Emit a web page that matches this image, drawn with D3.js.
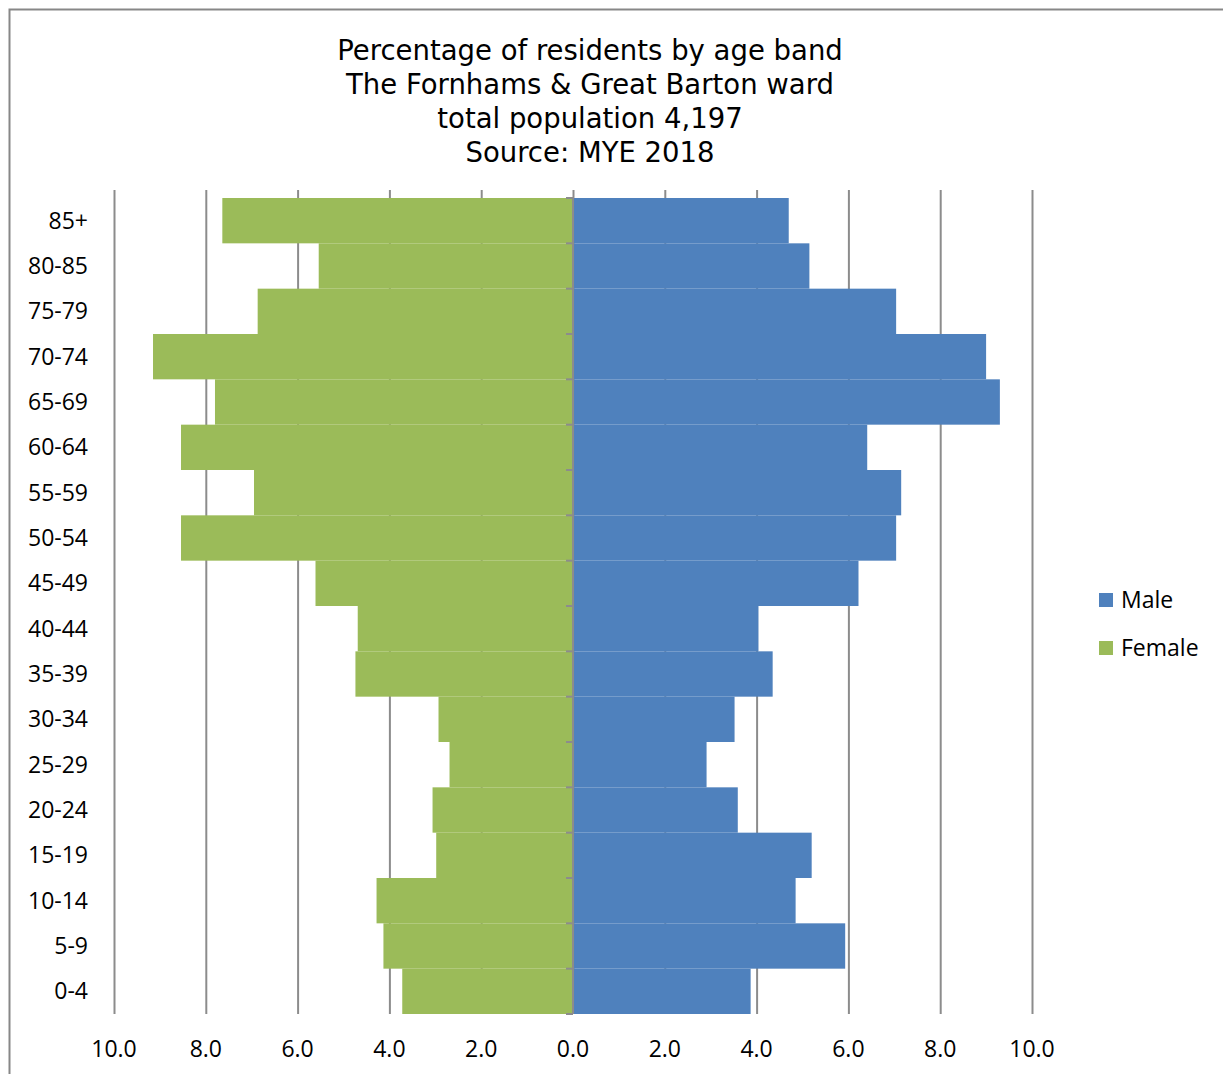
<!DOCTYPE html>
<meta charset="utf-8">
<style>
body { margin: 0; background: #fff; }
.title { font-family: "DejaVu Sans", Verdana, sans-serif; font-size: 27.5px; fill: #000; }
.lbl { font-family: "Open Sans", "Liberation Sans", sans-serif; font-size: 23px; fill: #000; }
.grid line { stroke: #8c8c8c; stroke-width: 2; }
.grid .domain { display: none; }
</style>
<svg width="1223" height="1074"></svg>
<script src="https://d3js.org/d3.v7.min.js"></script>
<script>

var ageBands = ["85+", "80-85", "75-79", "70-74", "65-69", "60-64", "55-59", "50-54", "45-49",
                "40-44", "35-39", "30-34", "25-29", "20-24", "15-19", "10-14", "5-9", "0-4"];
var male   = [4.70, 5.15, 7.04, 9.00, 9.30, 6.41, 7.15, 7.04, 6.22, 4.04, 4.35, 3.52, 2.91, 3.59, 5.20, 4.85, 5.93, 3.87];
var female = [7.64, 5.54, 6.87, 9.15, 7.80, 8.54, 6.95, 8.54, 5.61, 4.69, 4.74, 2.93, 2.69, 3.06, 2.98, 4.28, 4.13, 3.72];
var xTicks = [-10, -8, -6, -4, -2, 0, 2, 4, 6, 8, 10];
var titleLines = ["Percentage of residents by age band", "The Fornhams & Great Barton ward",
                  "total population 4,197", "Source: MYE 2018"];
var seriesNames = ["Male", "Female"];
var seriesColors = ["#4f81bd", "#9bbb59"];

var svg = d3.select("svg");

// outer chart frame (runs off the right and bottom of the picture)
svg.append("rect")
    .attr("x", 9.5).attr("y", 9.5)
    .attr("width", 1240).attr("height", 1100)
    .attr("fill", "none")
    .attr("stroke", "#878787")
    .attr("stroke-width", 2);

var plotTop = 198, plotBottom = 1014;

var x = d3.scaleLinear()
    .domain([-10, 10])
    .range([114, 1032]);

var y = d3.scaleBand()
    .domain(ageBands)
    .range([plotTop, plotBottom])
    .padding(0);

// title
svg.append("g").selectAll("text")
  .data(titleLines)
  .enter().append("text")
    .attr("class", "title")
    .attr("x", 590)
    .attr("y", function(d, i) { return 60 + i * 34; })
    .attr("text-anchor", "middle")
    .text(function(d) { return d; });

// vertical gridlines
svg.append("g")
    .attr("class", "grid")
    .attr("transform", "translate(0," + plotBottom + ")")
    .call(d3.axisBottom(x).tickValues(xTicks).tickSize(-(plotBottom - plotTop)).tickFormat(""));

// bars
var rows = ageBands.map(function(a, i) { return { band: a, male: male[i], female: female[i] }; });

svg.append("g").selectAll("rect")
  .data(rows)
  .enter().append("rect")
    .attr("x", function(d) { return x(-d.female); })
    .attr("y", function(d) { return y(d.band); })
    .attr("width", function(d) { return x(0) - x(-d.female); })
    .attr("height", y.bandwidth())
    .attr("fill", seriesColors[1]);

svg.append("g").selectAll("rect")
  .data(rows)
  .enter().append("rect")
    .attr("x", x(0))
    .attr("y", function(d) { return y(d.band); })
    .attr("width", function(d) { return x(d.male) - x(0); })
    .attr("height", y.bandwidth())
    .attr("fill", seriesColors[0]);

// value axis line on top with tick marks pointing up
var topAxis = svg.append("g")
    .attr("class", "grid")
    .attr("transform", "translate(0," + plotTop + ")")
    .call(d3.axisTop(x).tickValues(xTicks).tickSize(8).tickSizeOuter(0).tickFormat(""));
topAxis.select(".domain").style("display", null).attr("stroke", "#8c8c8c").attr("stroke-width", 2);

// value labels along the bottom
svg.append("g").selectAll("text")
  .data(xTicks)
  .enter().append("text")
    .attr("class", "lbl")
    .attr("x", function(d) { return x(d); })
    .attr("y", 1057)
    .attr("text-anchor", "middle")
    .text(function(d) { return Math.abs(d).toFixed(1); });

// category axis at zero
svg.append("line")
    .attr("x1", x(0)).attr("x2", x(0))
    .attr("y1", plotTop).attr("y2", plotBottom)
    .attr("stroke", "#8c8c8c").attr("stroke-width", 2);

svg.append("g").selectAll("line")
  .data(ageBands.map(function(a) { return y(a); }).concat([plotBottom]))
  .enter().append("line")
    .attr("x1", x(0) - 7).attr("x2", x(0))
    .attr("y1", function(d) { return d; })
    .attr("y2", function(d) { return d; })
    .attr("stroke", "#8c8c8c").attr("stroke-width", 2);

svg.append("g").selectAll("text")
  .data(ageBands)
  .enter().append("text")
    .attr("class", "lbl")
    .attr("x", 88)
    .attr("y", function(d) { return y(d) + y.bandwidth() / 2; })
    .attr("dy", "0.35em")
    .attr("text-anchor", "end")
    .text(function(d) { return d; });

// legend
var legend = svg.append("g").selectAll("g")
  .data(seriesNames)
  .enter().append("g")
    .attr("transform", function(d, i) { return "translate(1099," + (593 + i * 48) + ")"; });

legend.append("rect")
    .attr("width", 14).attr("height", 14)
    .attr("fill", function(d, i) { return seriesColors[i]; });

legend.append("text")
    .attr("class", "lbl")
    .attr("x", 22)
    .attr("y", 7)
    .attr("dy", "0.35em")
    .text(function(d) { return d; });

</script>
